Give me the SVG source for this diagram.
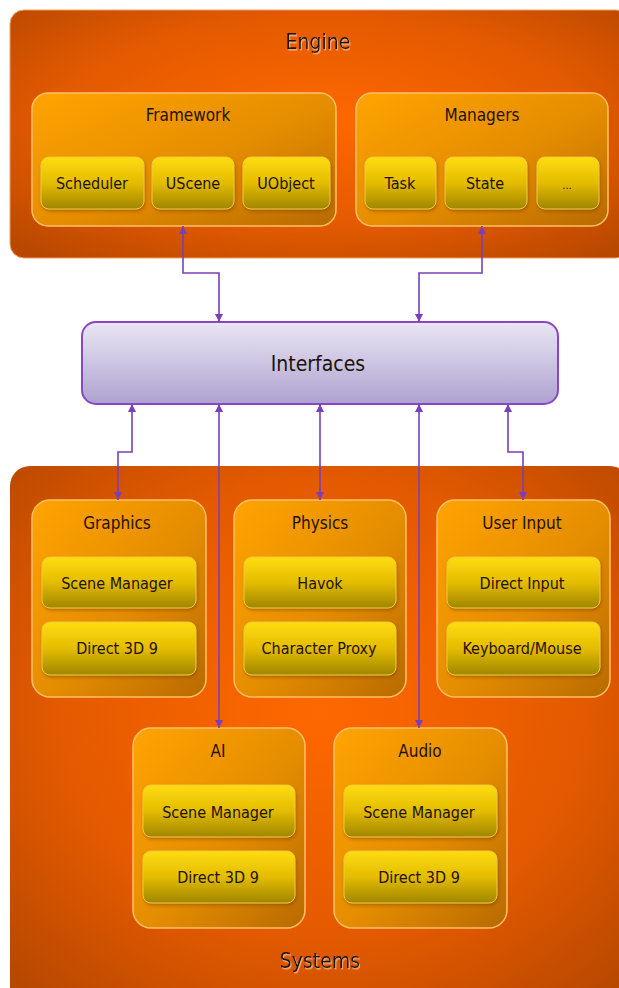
<svg xmlns="http://www.w3.org/2000/svg" width="619" height="988" viewBox="0 0 619 988">
<style>
text{font-family:"DejaVu Sans Condensed","Liberation Sans",sans-serif;fill:#1e1206;text-anchor:middle}
.big{font-size:21px}
.title{font-size:17px}
.item{font-size:16px}
.grp{fill:url(#grpG);stroke:#ffc066;stroke-width:1.5}
.itm{fill:url(#itmG);stroke:#f0c840;stroke-width:1;filter:url(#sh)}
.cn{fill:none;stroke:#7b3fb8;stroke-width:1.6}
</style>
<defs>
<radialGradient id="bgG" cx="0.5" cy="0.45" r="0.7">
<stop offset="0" stop-color="#ff6800"/>
<stop offset="0.6" stop-color="#e45a00"/>
<stop offset="1" stop-color="#b84800"/>
</radialGradient>
<linearGradient id="grpG" x1="0" y1="0" x2="1" y2="1">
<stop offset="0" stop-color="#ffa400"/>
<stop offset="0.55" stop-color="#e48c00"/>
<stop offset="1" stop-color="#b86a00"/>
</linearGradient>
<linearGradient id="itmG" x1="0" y1="0" x2="0" y2="1">
<stop offset="0" stop-color="#ffdc10"/>
<stop offset="0.5" stop-color="#e4bc00"/>
<stop offset="1" stop-color="#a08600"/>
</linearGradient>
<linearGradient id="ifG" x1="0" y1="0" x2="0" y2="1">
<stop offset="0" stop-color="#ebe6f4"/>
<stop offset="1" stop-color="#ada2d0"/>
</linearGradient>
<filter id="sh" x="-10%" y="-10%" width="130%" height="140%">
<feDropShadow dx="1" dy="2" stdDeviation="1.5" flood-color="#7a3a00" flood-opacity="0.45"/>
</filter>
<filter id="tsh" x="-10%" y="-10%" width="130%" height="140%">
<feDropShadow dx="1" dy="1.5" stdDeviation="0.6" flood-color="#ffffff" flood-opacity="0.5"/>
</filter>
<marker id="ah" viewBox="0 0 10 10" refX="10" refY="5" markerWidth="8" markerHeight="8" markerUnits="userSpaceOnUse" orient="auto-start-reverse">
<path d="M0,0 L10,5 L0,10 z" fill="#7b3fb8"/>
</marker>
</defs>
<rect width="619" height="988" fill="#ffffff"/>

<g id="engine">
<rect x="10" y="10" width="620" height="248" rx="14" fill="url(#bgG)" stroke="#f0a060" stroke-width="1"/>
<text class="big" x="318" y="49" filter="url(#tsh)">Engine</text>
</g>
<g id="framework">
<rect class="grp" x="32" y="93" width="304" height="133" rx="16"/>
<text class="title" x="188" y="121">Framework</text>
</g>
<g id="scheduler"><rect class="itm" x="41" y="157" width="103" height="52" rx="8"/><text class="item" x="92" y="189">Scheduler</text></g>
<g id="uscene"><rect class="itm" x="152" y="157" width="82" height="52" rx="8"/><text class="item" x="193" y="189">UScene</text></g>
<g id="uobject"><rect class="itm" x="243" y="157" width="87" height="52" rx="8"/><text class="item" x="286" y="189">UObject</text></g>
<g id="managers">
<rect class="grp" x="356" y="93" width="252" height="133" rx="16"/>
<text class="title" x="482" y="121">Managers</text>
</g>
<g id="task"><rect class="itm" x="365" y="157" width="71" height="52" rx="8"/><text class="item" x="400" y="189">Task</text></g>
<g id="state"><rect class="itm" x="445" y="157" width="82" height="52" rx="8"/><text class="item" x="485" y="189">State</text></g>
<g id="more"><rect class="itm" x="537" y="157" width="62" height="52" rx="8"/><text class="item" x="567" y="189" style="font-size:11px">...</text></g>

<g id="interfaces">
<rect x="82" y="322" width="476" height="82" rx="14" fill="url(#ifG)" stroke="#8a46c4" stroke-width="2"/>
<text class="big" x="318" y="371">Interfaces</text>
</g>

<g id="systems">
<rect x="10" y="466" width="620" height="540" rx="20" fill="url(#bgG)"/>
<text class="big" x="320" y="968" filter="url(#tsh)">Systems</text>
</g>
<g id="graphics">
<rect class="grp" x="32" y="500" width="174" height="197" rx="18"/>
<text class="title" x="117" y="529">Graphics</text>
<rect class="itm" x="42" y="557" width="154" height="51" rx="8"/><text class="item" x="117" y="589">Scene Manager</text>
<rect class="itm" x="42" y="622" width="154" height="53" rx="8"/><text class="item" x="117" y="654">Direct 3D 9</text>
</g>
<g id="physics">
<rect class="grp" x="234" y="500" width="172" height="197" rx="18"/>
<text class="title" x="320" y="529">Physics</text>
<rect class="itm" x="244" y="557" width="152" height="51" rx="8"/><text class="item" x="320" y="589">Havok</text>
<rect class="itm" x="244" y="622" width="152" height="53" rx="8"/><text class="item" x="319" y="654">Character Proxy</text>
</g>
<g id="userinput">
<rect class="grp" x="437" y="500" width="173" height="197" rx="18"/>
<text class="title" x="522" y="529">User Input</text>
<rect class="itm" x="447" y="557" width="153" height="51" rx="8"/><text class="item" x="522" y="589">Direct Input</text>
<rect class="itm" x="447" y="622" width="153" height="53" rx="8"/><text class="item" x="522" y="654">Keyboard/Mouse</text>
</g>
<g id="ai">
<rect class="grp" x="133" y="728" width="172" height="200" rx="18"/>
<text class="title" x="218" y="757">AI</text>
<rect class="itm" x="143" y="785" width="152" height="52" rx="8"/><text class="item" x="218" y="818">Scene Manager</text>
<rect class="itm" x="143" y="851" width="152" height="52" rx="8"/><text class="item" x="218" y="883">Direct 3D 9</text>
</g>
<g id="audio">
<rect class="grp" x="334" y="728" width="173" height="200" rx="18"/>
<text class="title" x="420" y="757">Audio</text>
<rect class="itm" x="344" y="785" width="153" height="52" rx="8"/><text class="item" x="419" y="818">Scene Manager</text>
<rect class="itm" x="344" y="851" width="153" height="52" rx="8"/><text class="item" x="419" y="883">Direct 3D 9</text>
</g>

<g id="connectors">
<path class="cn" d="M183,226 V273 H219 V322" marker-start="url(#ah)" marker-end="url(#ah)"/>
<path class="cn" d="M482,226 V273 H419 V322" marker-start="url(#ah)" marker-end="url(#ah)"/>
<path class="cn" d="M132,404 V452 H118 V500" marker-start="url(#ah)" marker-end="url(#ah)"/>
<path class="cn" d="M219,404 V728" marker-start="url(#ah)" marker-end="url(#ah)"/>
<path class="cn" d="M320,404 V500" marker-start="url(#ah)" marker-end="url(#ah)"/>
<path class="cn" d="M419,404 V728" marker-start="url(#ah)" marker-end="url(#ah)"/>
<path class="cn" d="M508,404 V452 H523 V500" marker-start="url(#ah)" marker-end="url(#ah)"/>
</g>
</svg>
